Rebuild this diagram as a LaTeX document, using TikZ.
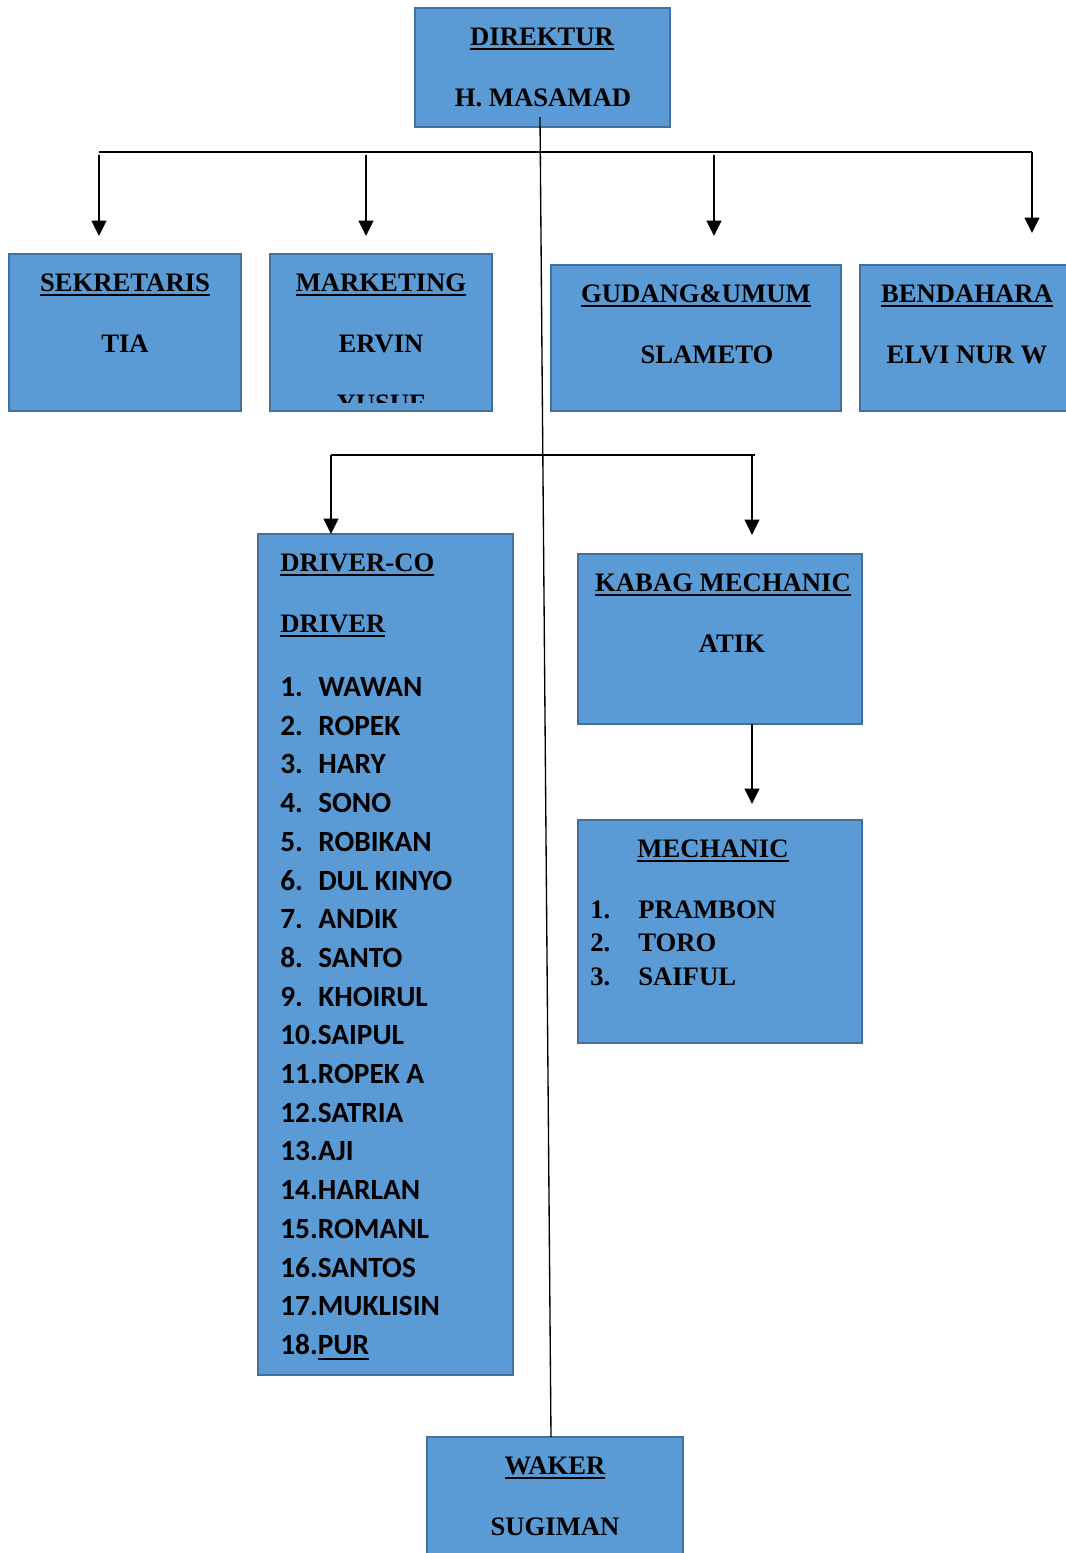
\documentclass[tikz,border=0pt]{standalone}
\usepackage{fontspec}
\setmainfont{Liberation Serif}
\newfontfamily\calib{Carlito}
\usetikzlibrary{arrows.meta,fit}
\definecolor{boxfill}{HTML}{5B9BD5}
\definecolor{boxborder}{HTML}{41719C}
\newcommand\myul[1]{\setbox0=\hbox{#1}\leavevmode\rlap{\rule[-4pt]{\wd0}{1.5pt}}\box0}
\begin{document}
\begin{tikzpicture}[x=0.75pt,y=-0.75pt,
  box/.style={draw=boxborder, line width=1.5pt, fill=boxfill, inner sep=0pt},
  hd/.style={font=\fontsize{20}{24}\selectfont\bfseries, anchor=base, inner sep=0pt},
  hdl/.style={hd, anchor=base west},
  lst/.style={font=\calib\fontsize{22}{26}\selectfont\bfseries, anchor=base west, inner sep=0pt},
  bus/.style={line width=1pt},
  arr/.style={line width=1.5pt, -{Triangle[length=11.5pt,width=11pt]}}]
\useasboundingbox (0,0) rectangle (1066,1553);
\clip (0,0) rectangle (1066,1553);
% boxes
\node[box, fit={(415,8)(670,127)}] (dir) {};
\node[box, fit={(9,254)(241,411)}] (sek) {};
\node[box, fit={(270,254)(492,411)}] (mkt) {};
\node[box, fit={(551,265)(841,411)}] (gud) {};
\node[box, fit={(860,265)(1080,411)}] (ben) {};
\node[box, fit={(258,534)(513,1375)}] (drv) {};
\node[box, fit={(578,554)(862,724)}] (kab) {};
\node[box, fit={(578,820)(862,1043)}] (mec) {};
\node[box, fit={(427,1437)(683,1570)}] (wak) {};
% texts
\node[hd] (t1) at (542,45) {\myul{DIREKTUR}};
\node[hd] (t2) at (543,106) {H. MASAMAD};
\node[hd] (t3) at (125,291) {\myul{SEKRETARIS}};
\node[hd] (t4) at (125,352) {TIA};
\node[hd] (t5) at (381,291) {\myul{MARKETING}};
\node[hd] (t6) at (381,352) {ERVIN};
\begin{scope}
\clip (272,256) rectangle (490,402);
\node[hd] (t7) at (381,412) {YUSUF};
\end{scope}
\node[hd] (t8) at (696,302) {\myul{GUDANG\&UMUM}};
\node[hd] (t9) at (707,363) {SLAMETO};
\node[hd] (t10) at (967,302) {\myul{BENDAHARA}};
\node[hd] (t11) at (967,363) {ELVI NUR W};
\node[hdl] (t12) at (280,571) {\myul{DRIVER-CO}};
\node[hdl] (t13) at (280,632) {\myul{DRIVER}};
\node[hd] (t14) at (723,591) {\myul{KABAG MECHANIC}};
\node[hd] (t15) at (732,652) {ATIK};
\node[hd] (t16) at (713,857) {\myul{MECHANIC}};
\node[hd] (t17) at (555,1474) {\myul{WAKER}};
\node[hd] (t18) at (555,1535) {SUGIMAN};
% driver list
\foreach \n [count=\i] in {WAWAN,ROPEK,HARY,SONO,ROBIKAN,DUL KINYO,ANDIK,SANTO,KHOIRUL} {
  \node[lst] (dn\i) at (280,{687+38.7*(\i-1)+9.5}) {\i.};
  \node[lst] (dm\i) at (318,{687+38.7*(\i-1)+9.5}) {\n};
}
\foreach \n [count=\i from 10] in {SAIPUL,ROPEK A,SATRIA,AJI,HARLAN,ROMANL,SANTOS,MUKLISIN} {
  \node[lst] (dn\i) at (280,{687+38.7*(\i-1)+9.5}) {\i.\n};
}
\node[lst] (dn18) at (280,{687+38.7*17+9.5}) {18.\myul{PUR}};
% mechanic list
\foreach \n [count=\i] in {PRAMBON,TORO,SAIFUL} {
  \node[hdl] (mn\i) at (590,{909+33.5*(\i-1)+9}) {\i.};
  \node[hdl] (mm\i) at (638,{909+33.5*(\i-1)+9}) {\n};
}
% connectors
\coordinate (b1) at (99,152);
\coordinate (b2) at (366,152);
\coordinate (b3) at (714,152);
\coordinate (b4) at (1032,152);
\coordinate (a1) at (99,236);
\coordinate (a2) at (366,236);
\coordinate (a3) at (714,236);
\coordinate (a4) at (1032,233);
\draw[bus] (b1) -- (b4);
\draw[arr] ([yshift=-2]b1) -- (a1);
\draw[arr] ([yshift=-2]b2) -- (a2);
\draw[arr] ([yshift=-2]b3) -- (a3);
\draw[arr] (b4) -- (a4);
\coordinate (s1) at (540,117);
\coordinate (s2) at (551,1437);
\draw[bus] (s1) -- (s2);
\coordinate (c1) at (331,455);
\coordinate (c2) at (755,455);
\coordinate (c3) at (752,455);
\coordinate (d1) at (331,534);
\coordinate (d2) at (752,535);
\draw[bus] (c1) -- (c2);
\draw[arr] (c1) -- (d1);
\draw[arr] (c3) -- (d2);
\coordinate (k1) at (752,724);
\coordinate (k2) at (752,804);
\draw[arr] (k1) -- (k2);
\end{tikzpicture}
\end{document}
